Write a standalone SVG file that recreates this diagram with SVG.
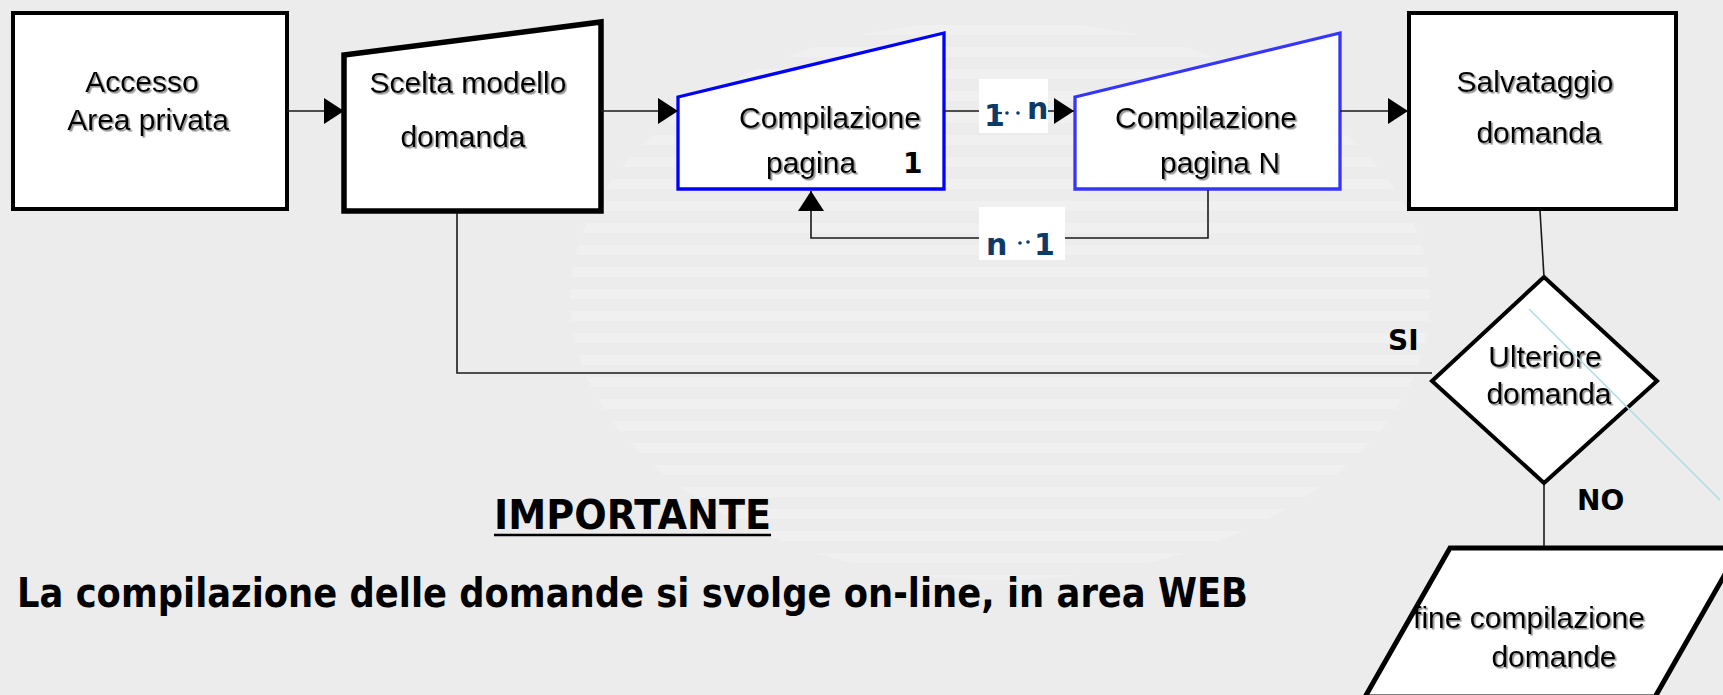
<svg xmlns="http://www.w3.org/2000/svg" width="1723" height="695" viewBox="0 0 1723 695">
<defs>
<style>
.t{font-family:"Liberation Sans",Arial,sans-serif;font-size:30px;fill:#000;text-anchor:middle}
.b{font-family:"DejaVu Sans",Verdana,sans-serif;font-weight:bold;fill:#000}
.lbl{font-family:"DejaVu Sans",Verdana,sans-serif;font-weight:bold;fill:#0d3a66;font-size:30px}
.dot{fill:#0d3a66}
.box{fill:#fff;stroke:#000;stroke-width:4}
.blue{fill:#fff;stroke:#0000ff;stroke-width:3.3}
.con{fill:none;stroke:#1a1a1a;stroke-width:1.6}
</style>
<marker id="ah" markerUnits="userSpaceOnUse" markerWidth="20" markerHeight="26" refX="20" refY="13" orient="auto">
<path d="M0,0 L20,13 L0,26 Z" fill="#000"/>
</marker>
<filter id="sh" x="-5%" y="-20%" width="110%" height="140%">
<feDropShadow dx="1.6" dy="1.6" stdDeviation="0.6" flood-color="#777" flood-opacity="0.8"/>
</filter>
<pattern id="stripes" width="40" height="22" patternUnits="userSpaceOnUse">
<rect x="0" y="3" width="40" height="10" fill="#f4f4f4"/>
</pattern>
</defs>
<rect width="1723" height="695" fill="#ececec"/>
<g id="watermark" opacity="0.5">
<ellipse cx="1000" cy="300" rx="430" ry="280" fill="url(#stripes)"/>
</g>

<g id="accesso">
<rect class="box" x="13" y="13" width="274" height="196"/>
<text class="t" x="142" y="92" filter="url(#sh)">Accesso</text>
<text class="t" x="148" y="130" filter="url(#sh)">Area privata</text>
</g>

<g id="scelta">
<polygon class="box" points="344,55 601,22 601,211 344,211" style="stroke-width:5.5"/>
<text class="t" x="468" y="93" filter="url(#sh)">Scelta modello</text>
<text class="t" x="463" y="147" filter="url(#sh)">domanda</text>
</g>

<g id="comp1">
<polygon class="blue" points="678,97 944,33 944,189 678,189"/>
<text class="t" x="830" y="128" filter="url(#sh)">Compilazione</text>
<text class="t" x="766" y="173" style="text-anchor:start" filter="url(#sh)">pagina</text>
<text class="b" x="903" y="173" style="font-size:28px">1</text>
</g>

<g id="compN">
<polygon class="blue" points="1075,97 1340,33 1340,189 1075,189" style="stroke:#3535ff"/>
<text class="t" x="1206" y="128" filter="url(#sh)">Compilazione</text>
<text class="t" x="1220" y="173" filter="url(#sh)">pagina N</text>
</g>

<g id="salvataggio">
<rect class="box" x="1409" y="13" width="267" height="196"/>
<text class="t" x="1535" y="92" filter="url(#sh)">Salvataggio</text>
<text class="t" x="1539" y="143" filter="url(#sh)">domanda</text>
</g>

<g id="ulteriore">
<polygon class="box" points="1544,277 1657,381 1544,483 1432,381"/>
<text class="t" x="1545" y="367" filter="url(#sh)">Ulteriore</text>
<text class="t" x="1549" y="404" filter="url(#sh)">domanda</text>
</g>

<g id="fine">
<polygon class="box" points="1450,548 1740,548 1655,697 1365,697" style="stroke-width:5"/>
<text class="t" x="1529" y="628" filter="url(#sh)">fine compilazione</text>
<text class="t" x="1554" y="667" filter="url(#sh)">domande</text>
</g>

<g id="connectors">
<line class="con" x1="287" y1="111" x2="344" y2="111" marker-end="url(#ah)"/>
<line class="con" x1="601" y1="111" x2="678" y2="111" marker-end="url(#ah)"/>
<line class="con" x1="944" y1="111" x2="1074" y2="111" marker-end="url(#ah)"/>
<line class="con" x1="1340" y1="111" x2="1408" y2="111" marker-end="url(#ah)"/>
<polyline class="con" points="1208,190 1208,238 811,238 811,191" marker-end="url(#ah)"/>
<polyline class="con" points="457,213 457,373 1432,373"/>
<line class="con" x1="1540" y1="211" x2="1544" y2="277"/>
<line class="con" x1="1544" y1="485" x2="1544" y2="546"/>
<rect x="979" y="79" width="69" height="54" fill="#fff"/>
<text class="lbl" x="984" y="126">1</text>
<line x1="993" y1="113" x2="1002" y2="113" stroke="#0d3a66" stroke-width="2.2"/>
<circle class="dot" cx="1007" cy="113" r="1.8"/>
<circle class="dot" cx="1018" cy="113" r="1.8"/>
<text class="lbl" x="1027" y="119">n</text>
<rect x="979" y="207" width="86" height="53" fill="#fff"/>
<text class="lbl" x="986" y="255">n</text>
<circle class="dot" cx="1020" cy="243" r="1.8"/>
<circle class="dot" cx="1028" cy="242" r="1.8"/>
<text class="lbl" x="1034" y="255">1</text>
<text class="b" x="1388" y="350" style="font-size:28px">SI</text>
<text class="b" x="1577" y="510" style="font-size:28px">NO</text>
</g>

<g id="stray">
<line x1="1529" y1="309" x2="1720" y2="500" stroke="#a9dde2" stroke-width="1.5"/>
</g>

<g id="note">
<text class="b" x="494" y="529" style="font-size:40px" textLength="277" lengthAdjust="spacingAndGlyphs">IMPORTANTE</text>
<line x1="494" y1="535" x2="771" y2="535" stroke="#000" stroke-width="2.5"/>
<text class="b" x="17" y="607" style="font-size:40px" textLength="1231" lengthAdjust="spacingAndGlyphs">La compilazione delle domande si svolge on-line, in area WEB</text>
</g>
</svg>
